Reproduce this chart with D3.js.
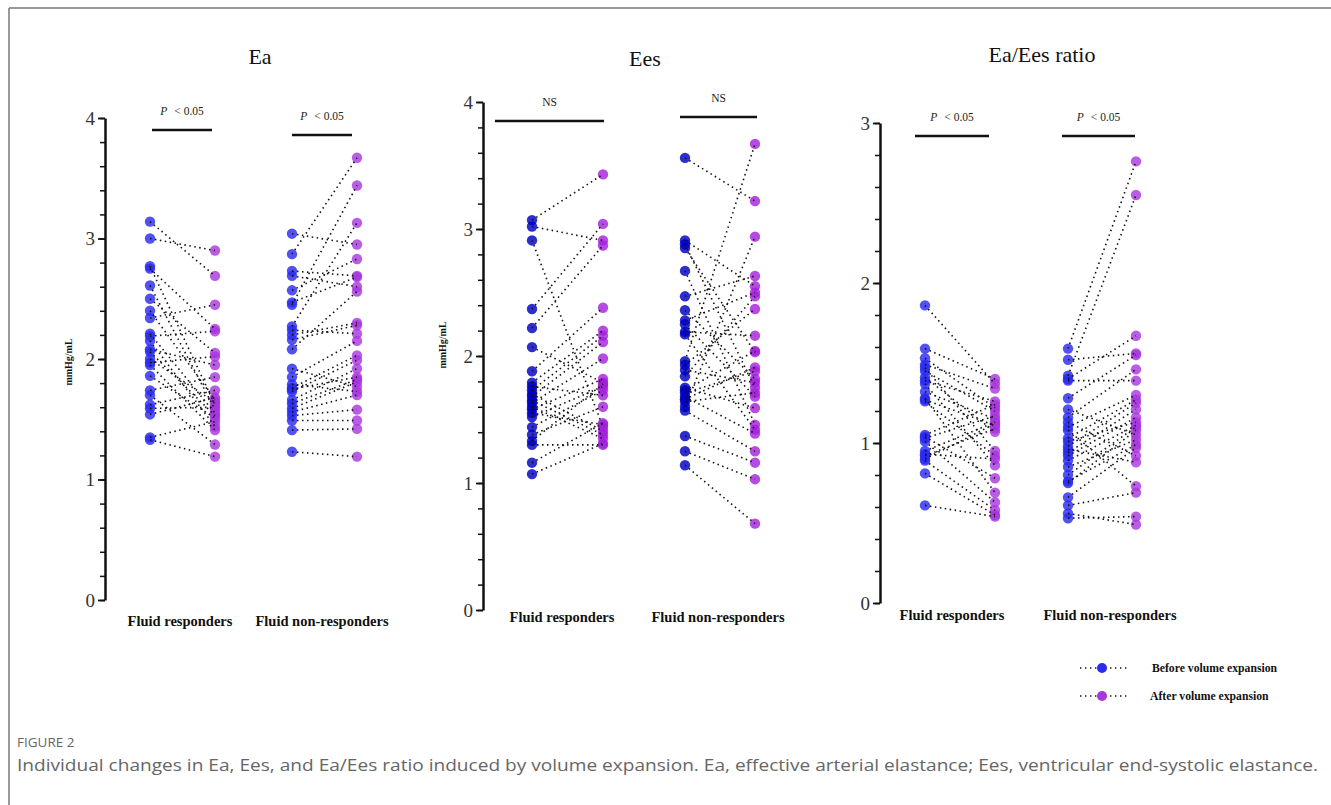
<!DOCTYPE html>
<html>
<head>
<meta charset="utf-8">
<script src="https://cdn.jsdelivr.net/npm/d3@7"></script>
<style>
  body { margin: 0; background: #fff; }
  svg { display: block; }
  .tick text { font-family: "Liberation Serif", "Times New Roman", serif; }
</style>
</head>
<body>
<svg id="fig" width="1331" height="805"></svg>
<script>
// ---- data ----
var groups = ["Fluid responders", "Fluid non-responders"];
var series = ["Before volume expansion", "After volume expansion"];

// Ea
var eaRespBefore = [3.14, 3.00, 2.77, 2.75, 2.61, 2.50, 2.40, 2.34, 2.21, 2.19, 2.15, 2.08, 2.06, 2.00, 1.97, 1.95, 1.86, 1.74, 1.70, 1.62, 1.59, 1.54, 1.35, 1.33];
var eaRespAfter  = [2.69, 2.90, 1.62, 2.25, 1.58, 2.05, 1.66, 2.45, 1.55, 2.23, 1.44, 1.95, 1.53, 1.64, 2.02, 1.41, 1.51, 1.85, 1.29, 1.74, 1.60, 1.68, 1.48, 1.19];
var eaNonBefore  = [3.04, 2.87, 2.73, 2.69, 2.57, 2.47, 2.45, 2.27, 2.24, 2.20, 2.16, 2.08, 1.92, 1.85, 1.79, 1.76, 1.75, 1.73, 1.66, 1.63, 1.59, 1.56, 1.53, 1.49, 1.41, 1.23];
var eaNonAfter   = [2.95, 3.67, 2.69, 2.60, 2.83, 2.68, 3.44, 3.13, 2.21, 2.30, 2.28, 2.56, 1.77, 2.15, 1.73, 2.03, 1.85, 1.99, 1.92, 1.83, 1.81, 1.70, 1.58, 1.49, 1.42, 1.19];

// Ees
var eesRespBefore = [3.07, 3.02, 2.91, 2.37, 2.22, 2.07, 1.88, 1.79, 1.76, 1.73, 1.70, 1.68, 1.65, 1.63, 1.60, 1.58, 1.55, 1.52, 1.44, 1.38, 1.33, 1.30, 1.16, 1.07];
var eesRespAfter  = [3.43, 2.91, 1.44, 3.04, 2.87, 1.79, 2.38, 2.20, 1.69, 2.16, 1.41, 2.11, 1.38, 1.98, 1.35, 1.82, 1.46, 1.76, 1.73, 1.60, 1.78, 1.30, 1.47, 1.31];
var eesNonBefore  = [3.56, 2.91, 2.88, 2.85, 2.67, 2.47, 2.36, 2.28, 2.25, 2.19, 2.17, 1.96, 1.93, 1.89, 1.84, 1.75, 1.73, 1.71, 1.68, 1.66, 1.64, 1.60, 1.57, 1.37, 1.25, 1.14];
var eesNonAfter   = [3.22, 2.55, 1.75, 2.03, 1.46, 2.63, 1.82, 2.50, 1.68, 2.16, 1.42, 3.67, 2.37, 1.79, 2.47, 1.59, 2.04, 1.88, 1.39, 1.91, 1.71, 2.94, 1.25, 1.16, 1.03, 0.68];

// Ea/Ees ratio
var ratioRespBefore = [1.86, 1.59, 1.53, 1.49, 1.47, 1.45, 1.41, 1.39, 1.37, 1.32, 1.28, 1.27, 1.26, 1.05, 1.04, 1.03, 1.01, 0.95, 0.93, 0.92, 0.90, 0.89, 0.81, 0.61];
var ratioRespAfter  = [1.37, 1.40, 1.22, 1.34, 0.95, 1.20, 1.07, 1.26, 0.86, 1.15, 0.69, 1.11, 0.92, 1.24, 0.78, 1.17, 0.63, 1.13, 0.90, 1.09, 1.12, 0.58, 0.55, 0.54];
var ratioNonBefore  = [1.59, 1.52, 1.42, 1.40, 1.39, 1.28, 1.21, 1.16, 1.13, 1.10, 1.08, 1.03, 1.01, 0.98, 0.96, 0.94, 0.92, 0.89, 0.85, 0.80, 0.76, 0.75, 0.66, 0.61, 0.56, 0.53];
var ratioNonAfter   = [2.76, 1.56, 2.55, 1.67, 1.39, 1.55, 1.05, 1.46, 0.92, 1.30, 0.73, 1.27, 1.13, 1.25, 0.88, 1.21, 1.16, 1.11, 1.02, 1.10, 0.99, 1.08, 0.97, 0.69, 0.49, 0.54];

var eaTicks = [0, 1, 2, 3, 4];
var eesTicks = [0, 1, 2, 3, 4];
var ratioTicks = [0, 1, 2, 3];

// ---- layout ----
var panels = [
  {title: "Ea", ticks: eaTicks, yLabel: "mmHg/mL",
   data: [[eaRespBefore, eaRespAfter], [eaNonBefore, eaNonAfter]],
   axisX: 105, yTop: 118, yBot: 600, titleX: 260, titleY: 64,
   cols: [150, 215, 292, 357], labelY: 626, labelX: [180, 322],
   bars: [[152, 212, 130], [292, 352, 135]], sig: ["P", "P"],
   yLabelX: 72, yLabelY: 362,
   blue: "#2b2bf2", purple: "#a835dd"},
  {title: "Ees", ticks: eesTicks, yLabel: "mmHg/mL",
   data: [[eesRespBefore, eesRespAfter], [eesNonBefore, eesNonAfter]],
   axisX: 483, yTop: 102, yBot: 610, titleX: 645, titleY: 66,
   cols: [532, 603, 685, 755], labelY: 622, labelX: [562, 718],
   bars: [[495, 604, 121], [680, 757, 117]], sig: ["NS", "NS"],
   yLabelX: 446, yLabelY: 345,
   blue: "#0000c4", purple: "#a41edb"},
  {title: "Ea/Ees ratio", ticks: ratioTicks, yLabel: null,
   data: [[ratioRespBefore, ratioRespAfter], [ratioNonBefore, ratioNonAfter]],
   axisX: 880, yTop: 123, yBot: 603, titleX: 1042, titleY: 62,
   cols: [925, 995, 1068, 1136], labelY: 620, labelX: [952, 1110],
   bars: [[915, 989, 136], [1062, 1135, 136]], sig: ["P", "P"],
   yLabelX: null, yLabelY: null,
   blue: "#2b2bf2", purple: "#a835dd"}
];

var svg = d3.select("#fig");
var serif = "'Liberation Serif', 'Times New Roman', serif";

// frame
svg.append("line").attr("x1", 9).attr("y1", 8).attr("x2", 1331).attr("y2", 8)
  .attr("stroke", "#777").attr("stroke-width", 1.5);
svg.append("line").attr("x1", 9).attr("y1", 8).attr("x2", 9).attr("y2", 805)
  .attr("stroke", "#777").attr("stroke-width", 1.5);

panels.forEach(function(p){
  var top = d3.max(p.ticks);
  var y = d3.scaleLinear().domain([0, top]).range([p.yBot, p.yTop]);
  var x = d3.scaleOrdinal().domain(["r0", "r1", "n0", "n1"]).range(p.cols);
  var g = svg.append("g");

  // title
  g.append("text").attr("x", p.titleX).attr("y", p.titleY)
    .attr("text-anchor", "middle").attr("font-family", serif)
    .attr("font-size", 22).attr("fill", "#111").text(p.title);

  // minor ticks
  var minor = d3.range(0, top + 0.001, 0.2).map(function(v){ return Math.round(v * 10) / 10; });
  g.append("g").attr("transform", "translate(" + p.axisX + ",0)")
    .call(d3.axisLeft(y).tickValues(minor).tickSize(5).tickFormat(""))
    .call(function(a){ a.select(".domain").remove(); })
    .selectAll("line").attr("stroke", "#111").attr("stroke-width", 1.5);

  // major axis
  var ax = g.append("g").attr("transform", "translate(" + p.axisX + ",0)")
    .call(d3.axisLeft(y).tickValues(p.ticks).tickSizeInner(7).tickSizeOuter(0).tickPadding(3).tickFormat(d3.format("d")));
  ax.select(".domain").attr("stroke", "#111").attr("stroke-width", 2.5);
  ax.selectAll(".tick line").attr("stroke", "#111").attr("stroke-width", 1.8);
  ax.selectAll(".tick text").attr("font-size", 19).attr("fill", "#333");

  if (p.yLabel) {
    g.append("text").attr("transform", "translate(" + p.yLabelX + "," + p.yLabelY + ") rotate(-90)")
      .attr("text-anchor", "middle").attr("font-family", serif).attr("font-weight", "bold")
      .attr("font-size", 10).attr("fill", "#111").text(p.yLabel);
  }

  // group labels
  groups.forEach(function(name, i){
    g.append("text").attr("x", p.labelX[i]).attr("y", p.labelY)
      .attr("text-anchor", "middle").attr("font-family", serif).attr("font-weight", "bold")
      .attr("font-size", 14.5).attr("fill", "#111").text(name);
  });

  // significance bars
  p.bars.forEach(function(b, i){
    g.append("line").attr("x1", b[0]).attr("x2", b[1]).attr("y1", b[2]).attr("y2", b[2])
      .attr("stroke", "#111").attr("stroke-width", 2.5);
    var cx = (b[0] + b[1]) / 2;
    var t = g.append("text").attr("x", cx).attr("y", b[2] - 15)
      .attr("text-anchor", "middle").attr("font-family", serif)
      .attr("font-size", 11.5).attr("fill", "#222");
    if (p.sig[i] === "P") {
      t.append("tspan").attr("font-style", "italic").text("P");
      t.append("tspan").attr("dx", 7).text("< 0.05");
    } else {
      t.text("NS");
    }
  });

  // dots then dotted pair lines
  p.data.forEach(function(pair, gi){
    var k = gi === 0 ? "r" : "n";
    var rows = pair[0].map(function(v, i){ return {a: v, b: pair[1][i]}; });
    g.selectAll(".dotA" + gi).data(rows).enter().append("circle")
      .attr("cx", x(k + "0")).attr("cy", function(d){ return y(d.a); })
      .attr("r", 5.2).attr("fill", p.blue).attr("fill-opacity", 0.82);
    g.selectAll(".dotB" + gi).data(rows).enter().append("circle")
      .attr("cx", x(k + "1")).attr("cy", function(d){ return y(d.b); })
      .attr("r", 5.2).attr("fill", p.purple).attr("fill-opacity", 0.8);
    g.selectAll(".pl" + gi).data(rows).enter().append("line")
      .attr("x1", x(k + "0")).attr("x2", x(k + "1"))
      .attr("y1", function(d){ return y(d.a); }).attr("y2", function(d){ return y(d.b); })
      .attr("stroke", "#111").attr("stroke-width", 1.6)
      .attr("stroke-dasharray", "1.5,3.5");
  });
});

// legend
var legend = svg.append("g");
[["#2b2bf2", 668, 1152], ["#a835dd", 696, 1150]].forEach(function(l, i){
  legend.append("line").attr("x1", 1080).attr("x2", 1127).attr("y1", l[1]).attr("y2", l[1])
    .attr("stroke", "#111").attr("stroke-width", 1.4).attr("stroke-dasharray", "1.4,3.6");
  legend.append("circle").attr("cx", 1102).attr("cy", l[1]).attr("r", 5).attr("fill", l[0]);
  legend.append("text").attr("x", l[2]).attr("y", l[1] + 4)
    .attr("font-family", serif).attr("font-weight", "bold").attr("font-size", 11.7)
    .attr("fill", "#111").text(series[i]);
});

// caption
svg.append("text").attr("x", 17).attr("y", 747)
  .attr("font-family", "'Open Sans', 'Noto Sans', sans-serif").attr("font-size", 13.5)
  .attr("fill", "#666").text("FIGURE 2");
svg.append("text").attr("x", 17).attr("y", 771)
  .attr("font-family", "'Open Sans', 'Noto Sans', sans-serif").attr("font-size", 17)
  .attr("fill", "#666").attr("textLength", 1301).attr("lengthAdjust", "spacingAndGlyphs")
  .text("Individual changes in Ea, Ees, and Ea/Ees ratio induced by volume expansion. Ea, effective arterial elastance; Ees, ventricular end-systolic elastance.");
</script>
</body>
</html>
